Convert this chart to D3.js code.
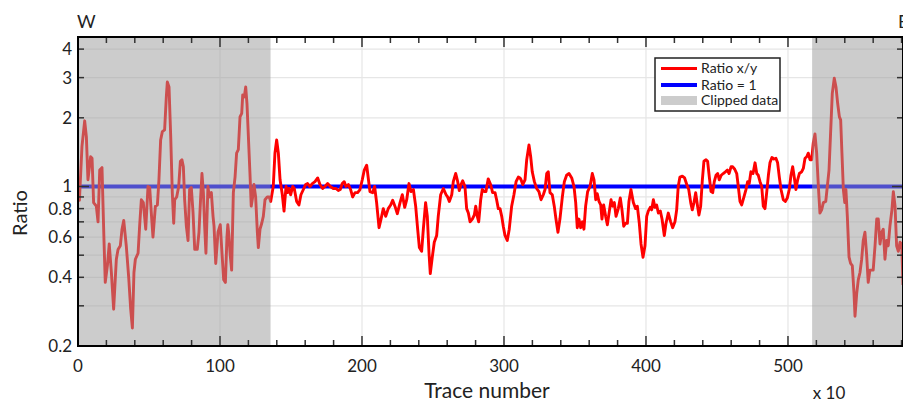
<!DOCTYPE html>
<html>
<head>
<meta charset="utf-8">
<script src="https://cdn.jsdelivr.net/npm/d3@7"></script>
<style>
  body { margin: 0; background: #fff; }
  text { font-family: Lato, "Open Sans", sans-serif; fill: #222; }
</style>
</head>
<body>
<script>
// trace number (x10) and ratio x/y
const traceNo = [
  0.5,1,2.8,4.7,5.9,7,8.9,9.9,11,12.9,14.1,15.3,16.9,18.3,19.2,20.7,22,23.5,25.1,27,28.2,29.8,31,32.2,34,35.7,37.1,38.3,39.4,40.4,
  42.3,43.4,44.6,46,47.7,49.3,50.5,51.6,52.8,54.5,55.9,57,58.2,59.4,61,62.2,62.9,64.1,65.3,66.4,67.4,68.1,69.5,70.9,72.1,73.2,74.2,75.1,76.3,77.5,
  78.6,79.8,81,82.2,84,85.2,86.4,87.3,88.3,89.2,90.1,91.5,92.5,93.9,95.1,95.8,97,98.6,100.2,101.4,102.6,103.8,104.9,105.5,106.2,107.2,108.2,109.4,110.6,111.7,
  112.9,114.1,115.3,116,117.1,118.1,119,120,121.1,122,123,123.9,125.1,126.3,127,128.2,129.4,130.5,131.7,133.3,134.7,135.7,137.5,138.7,139.9,141.1,142.3,143.9,145.1,146.5,
  147.7,148.6,149.8,151.2,152.3,154,155.6,157,158.7,160.3,161.7,163.4,165,166.9,168.8,170.4,172.3,173.9,175.8,177.7,179.8,181.7,183.3,184.7,186.1,187.5,188.7,190.4,192,193.4,
  195.1,196.9,198.6,200.2,201.6,203.3,204.4,205.6,207.5,208.9,210.3,212,213.4,215,216.7,218.5,220.2,221.6,223.2,224.9,226.8,228.4,230.1,231.5,233.1,234.5,236.2,237.8,239.2,240.4,
  242,243.2,244.8,246,247.2,248.1,249.5,250.9,252.6,253.7,255.4,257.3,259.2,260.3,261.5,263.2,264.3,266,267.4,268.5,269.7,270.9,272.5,273.7,274.9,276.1,277.7,279.1,280.1,281.2,
  282.2,283.6,284.7,286.1,287.3,288.9,290.6,292,293.7,294.8,296,297.2,298.4,299.5,300.7,302.3,303.7,305.4,307,308.5,310.1,311.3,312,313.2,314.8,316,317.6,318.8,319.9,321.4,
  323,324.6,326.1,327.7,328.9,330.1,331.2,332.4,334,335.4,336.6,338,339.4,341.1,342.5,344.1,345.8,347.7,349.3,350.5,351.6,352.8,354,355.2,356.3,357.5,358.9,360.6,362.2,363.4,
  364.6,365.7,366.9,368.1,369,370.2,371.6,372.8,374.2,375.4,376.5,377.7,378.9,380.5,381.9,383.1,384.3,385.7,386.9,388,389.4,391.1,392.7,393.9,395.3,396.5,397.9,399.3,400.5,401.6,
  403,404,405.2,406.3,407.5,408.7,410.1,411.3,412.9,414.1,415.7,417.4,418.8,420.4,421.6,422.7,423.9,425.6,427.2,428.7,430.1,431.5,432.6,433.8,435,436.2,437.3,438.5,439.7,440.8,
  442.3,443.4,444.6,445.8,447,448.1,449.3,450.5,451.6,453,454.4,455.9,457.3,458.5,459.9,461.1,462.5,463.9,465,466.2,467.4,469,470.4,471.6,472.7,473.9,475.4,476.8,478,479.1,
  480.3,481.5,482.6,483.8,485,486.2,487.3,488.7,490.1,491.5,492.7,493.9,495.1,496.7,498.1,499.5,500.9,502.1,503.3,504.5,505.6,506.8,508,509.6,510.8,512,513.2,514.3,515.5,516.7,
  517.8,519,520.2,521.4,522.5,523.7,524.9,526.6,527.7,528.9,530.1,531.2,532.6,533.8,535,536.2,537.1,538,539,540,540.8,541.8,543,544.1,545.3,546.5,547.2,548.4,549.5,550.7,
  551.9,553,554.2,555.4,556.5,557.7,558.9,560,561.3,562.5,563.6,564.8,566,567.1,568.3,569.5,570.6,571.8,573.2,574.2,575.4,576.5,577.7,578.9,580.1,581
];
const ratioXY = [
  0.88,0.87,1.5,1.94,1.65,1.07,1.35,1.33,0.85,0.82,0.70,1.18,1.21,0.58,0.38,0.45,0.56,0.42,0.29,0.48,0.53,0.55,0.65,0.71,0.55,0.40,0.29,0.24,0.42,0.48,
  0.51,0.67,0.875,0.85,0.65,1.0,0.99,0.77,0.60,0.82,0.83,1.07,1.6,1.74,1.77,2.47,2.87,2.73,1.65,0.94,0.69,0.875,0.9,1.0,1.29,1.31,1.22,0.875,0.67,0.58,
  0.97,0.99,0.77,0.53,0.53,0.63,0.9,1.14,0.94,0.67,0.51,1.0,0.9,0.94,0.74,0.67,0.46,0.63,0.68,0.51,0.39,0.38,0.6,0.68,0.62,0.5,0.43,0.94,1.1,1.40,
  1.45,2.02,2.09,2.52,2.47,2.73,2.31,1.65,1.14,0.82,0.9,1.02,0.9,0.63,0.54,0.65,0.69,0.74,0.875,0.9,0.9,0.86,1.0,1.40,1.6,1.4,1.07,0.92,0.78,1.0,
  0.94,0.98,0.92,1.0,0.98,0.86,0.83,0.92,0.97,1.02,1.03,1.0,1.03,1.05,1.09,1.02,0.98,1.0,1.03,1.0,0.98,0.98,0.96,0.97,1.03,1.05,1.0,1.02,0.97,0.9,
  0.94,0.94,0.97,1.07,1.18,1.24,1.09,0.95,0.94,1.0,0.85,0.66,0.72,0.80,0.74,0.80,0.83,0.87,0.82,0.76,0.85,0.92,0.81,0.875,1.03,0.95,0.97,0.82,0.65,0.54,
  0.52,0.65,0.85,0.74,0.51,0.415,0.49,0.57,0.61,0.74,0.92,0.98,0.92,0.9,0.86,0.92,1.05,1.14,1.05,0.96,1.02,1.06,1.0,0.80,0.765,0.70,0.72,0.75,0.82,0.74,
  0.70,0.875,0.97,0.95,0.95,1.08,1.02,0.94,0.94,0.875,0.80,0.80,0.74,0.67,0.61,0.58,0.65,0.82,0.92,1.05,1.1,1.09,1.07,1.02,1.07,1.31,1.52,1.35,1.16,1.05,
  0.98,0.95,0.875,0.92,0.97,1.14,1.16,0.94,0.92,0.82,0.72,0.63,0.72,0.9,1.05,1.12,1.14,1.09,1.0,0.85,0.66,0.72,0.66,0.70,0.65,0.82,0.95,1.0,1.14,1.07,
  0.875,0.93,0.86,0.83,0.72,0.83,0.74,0.68,0.78,0.875,0.82,0.85,0.74,0.80,0.89,0.79,0.67,0.69,0.69,0.86,0.97,0.85,0.80,0.82,0.69,0.56,0.49,0.55,0.74,0.78,
  0.81,0.79,0.875,0.81,0.83,0.765,0.78,0.72,0.61,0.69,0.765,0.70,0.66,0.70,0.79,1.0,1.1,1.11,1.09,1.02,0.97,0.85,0.79,0.85,0.94,0.83,0.75,0.82,1.07,1.29,
  1.31,1.29,1.1,0.95,0.94,1.05,1.12,1.14,1.07,1.12,1.14,1.16,1.18,1.14,1.22,1.22,1.19,1.14,1.0,0.86,0.83,0.9,0.97,1.05,1.03,1.16,1.14,1.27,1.14,1.12,
  1.05,1.0,0.82,0.80,0.94,1.12,1.27,1.34,1.32,1.33,1.27,1.1,0.97,0.875,0.86,0.89,0.97,1.12,1.22,1.09,0.97,1.07,1.14,1.16,1.2,1.33,1.35,1.40,1.31,1.31,
  1.55,1.70,1.40,1.0,0.765,0.79,0.85,0.86,1.0,1.18,1.77,2.56,2.98,2.73,2.31,2.02,1.96,1.40,0.97,0.85,0.97,0.74,0.49,0.46,0.45,0.34,0.27,0.34,0.39,0.42,
  0.48,0.58,0.63,0.50,0.38,0.43,0.43,0.43,0.55,0.72,0.72,0.56,0.63,0.65,0.48,0.58,0.55,0.67,0.79,0.95,0.82,0.55,0.52,0.57,0.56,0.37
];
const clippedStart = [0, 517];
const clippedEnd = [135.6, 581];
const yTicks = [0.2, 0.3, 0.4, 0.5, 0.6, 0.7, 0.8, 0.9, 1, 2, 3, 4];
const yLabels = [0.2, 0.4, 0.6, 0.8, 1, 2, 3, 4];
const xMajor = [0, 100, 200, 300, 400, 500];
const xMinor = d3.range(0, 581, 20);
const legendNames = ["Ratio x/y", "Ratio = 1", "Clipped data"];

(() => {
  const width = 903, height = 403;
  const plotLeft = 78, plotRight = 903, plotTop = 37, plotBottom = 346;

  const x = d3.scaleLinear().domain([0, 581]).range([plotLeft, plotRight]);
  const y = d3.scaleLog().domain([0.2, 4.52]).range([plotBottom, plotTop]);

  const svg = d3.create("svg")
    .attr("width", width)
    .attr("height", height)
    .attr("viewBox", [0, 0, width, height]);

  svg.append("clipPath").attr("id", "plot")
    .append("rect")
    .attr("x", plotLeft).attr("y", plotTop)
    .attr("width", plotRight - plotLeft).attr("height", plotBottom - plotTop);

  // grid
  svg.append("g")
    .selectAll("line")
    .data(yTicks)
    .join("line")
    .attr("x1", plotLeft).attr("x2", plotRight)
    .attr("y1", d => y(d)).attr("y2", d => y(d))
    .attr("stroke", "#e6e6e6").attr("stroke-width", 1.2);

  svg.append("g")
    .selectAll("line")
    .data(xMajor.slice(1))
    .join("line")
    .attr("x1", d => x(d)).attr("x2", d => x(d))
    .attr("y1", plotTop).attr("y2", plotBottom)
    .attr("stroke", "#e6e6e6").attr("stroke-width", 1.2);

  const plot = svg.append("g").attr("clip-path", "url(#plot)");

  plot.append("line")
    .attr("x1", x(0)).attr("x2", x(581))
    .attr("y1", y(1)).attr("y2", y(1))
    .attr("stroke", "#0000ff").attr("stroke-width", 4);

  const pts = traceNo.map((t, i) => [t, ratioXY[i]]);
  plot.append("path")
    .datum(pts)
    .attr("fill", "none")
    .attr("stroke", "#ff0000")
    .attr("stroke-width", 2.9)
    .attr("stroke-linejoin", "round")
    .attr("d", d3.line().x(d => x(d[0])).y(d => y(d[1])));

  // clipped data shading sits on top of the lines
  plot.append("g")
    .selectAll("rect")
    .data(clippedStart)
    .join("rect")
    .attr("x", d => x(d))
    .attr("width", (d, i) => x(clippedEnd[i]) - x(d))
    .attr("y", plotTop).attr("height", plotBottom - plotTop)
    .attr("fill", "#9b9b9b")
    .attr("fill-opacity", 0.51);

  // ticks
  const tk = svg.append("g").attr("stroke", "#333").attr("stroke-width", 1.5);
  xMinor.forEach(d => {
    const len = xMajor.includes(d) ? 10 : 6;
    tk.append("line").attr("x1", x(d)).attr("x2", x(d)).attr("y1", plotBottom).attr("y2", plotBottom - len);
    tk.append("line").attr("x1", x(d)).attr("x2", x(d)).attr("y1", plotTop).attr("y2", plotTop + len);
  });
  yTicks.forEach(d => {
    const len = d === 1 ? 11 : 6;
    tk.append("line").attr("x1", plotLeft).attr("x2", plotLeft + len).attr("y1", y(d)).attr("y2", y(d));
    tk.append("line").attr("x1", plotRight).attr("x2", plotRight - len).attr("y1", y(d)).attr("y2", y(d));
  });

  // box
  svg.append("rect")
    .attr("x", plotLeft).attr("y", plotTop)
    .attr("width", plotRight - plotLeft).attr("height", plotBottom - plotTop)
    .attr("fill", "none").attr("stroke", "#000").attr("stroke-width", 2);

  // tick labels
  svg.append("g")
    .selectAll("text")
    .data(yLabels)
    .join("text")
    .attr("x", plotLeft - 6)
    .attr("y", d => y(d))
    .attr("dy", "0.35em")
    .attr("text-anchor", "end")
    .attr("font-size", 17)
    .text(d => d);

  svg.append("g")
    .selectAll("text")
    .data(xMajor)
    .join("text")
    .attr("x", d => x(d))
    .attr("y", 372)
    .attr("text-anchor", "middle")
    .attr("font-size", 17)
    .text(d => d);

  svg.append("text").attr("x", 487).attr("y", 398).attr("text-anchor", "middle")
    .attr("font-size", 21).text("Trace number");
  svg.append("text").attr("x", 829).attr("y", 399).attr("text-anchor", "middle")
    .attr("font-size", 17).text("x 10");
  svg.append("text").attr("transform", "translate(27,213) rotate(-90)").attr("text-anchor", "middle")
    .attr("font-size", 20).text("Ratio");
  svg.append("text").attr("x", 77).attr("y", 28).attr("font-size", 18).text("W");
  // the E label sits at the very edge, partly outside the frame as in the source
  svg.append("text").attr("x", 898).attr("y", 28).attr("font-size", 18).text("E");

  // legend
  const lg = svg.append("g").attr("transform", "translate(655,58)");
  lg.append("rect").attr("width", 125).attr("height", 53)
    .attr("fill", "#fff").attr("stroke", "#222").attr("stroke-width", 1.5);
  const rows = [10.5, 27, 42.5];
  lg.append("line").attr("x1", 6).attr("x2", 42).attr("y1", rows[0]).attr("y2", rows[0])
    .attr("stroke", "#ff0000").attr("stroke-width", 3);
  lg.append("line").attr("x1", 6).attr("x2", 42).attr("y1", rows[1]).attr("y2", rows[1])
    .attr("stroke", "#0000ff").attr("stroke-width", 4);
  lg.append("rect").attr("x", 6).attr("y", rows[2] - 4.5).attr("width", 36).attr("height", 9)
    .attr("fill", "#cccccc");
  lg.selectAll("text.lbl")
    .data(legendNames)
    .join("text")
    .attr("class", "lbl")
    .attr("x", 46)
    .attr("y", (d, i) => rows[i])
    .attr("dy", "0.35em")
    .attr("font-size", 14)
    .text(d => d);

  d3.select("body").append(() => svg.node());
})();
</script>
</body>
</html>
